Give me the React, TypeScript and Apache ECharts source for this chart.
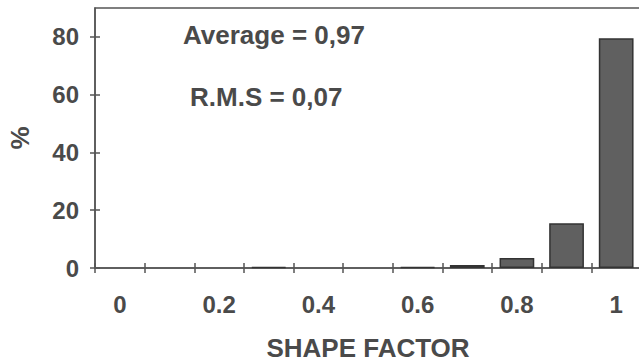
import React, { useEffect, useRef } from "react";
import * as echarts from "echarts";

const categories = ["0", "0.1", "0.2", "0.3", "0.4", "0.5", "0.6", "0.7", "0.8", "0.9", "1"];
const percentValues = [0, 0, 0, 0.3, 0, 0, 0.3, 1, 3.5, 15.5, 79.5];
const yTickValues = [0, 20, 40, 60, 80];
const annotations = ["Average = 0,97", "R.M.S = 0,07"];

const TEXT = "#4a4a4a";
const AXIS = "#555555";
const FONT = "'Liberation Sans', Arial, sans-serif";

export default function App() {
  const ref = useRef<HTMLDivElement>(null);
  useEffect(() => {
    document.body.style.margin = "0";
    const chart = echarts.init(ref.current!, null, { renderer: "svg" });
    chart.setOption({
      animation: false,
      backgroundColor: "#ffffff",
      grid: {
        left: 95,
        right: -2,
        top: 8,
        bottom: 96,
        containLabel: false,
        outerBoundsMode: "none",
        show: true,
        borderColor: AXIS,
        borderWidth: 1.5,
        backgroundColor: "transparent",
      },
      xAxis: [
        {
          type: "category",
          data: categories,
          position: "bottom",
          axisLine: { lineStyle: { color: AXIS, width: 1.5 } },
          axisTick: { show: true, interval: 0, length: 5, lineStyle: { color: AXIS, width: 1.5 } },
          axisLabel: {
            interval: 1,
            margin: 24,
            color: TEXT,
            fontSize: 24,
            fontWeight: "bold",
            fontFamily: FONT,
          },
          name: "SHAPE FACTOR",
          nameLocation: "middle",
          nameGap: 67,
          nameTextStyle: { color: TEXT, fontSize: 26, fontWeight: "bold", fontFamily: FONT },
        },
        {
          type: "category",
          data: categories,
          position: "bottom",
          axisLine: { show: false },
          axisTick: { show: true, inside: true, interval: 0, length: 5, lineStyle: { color: AXIS, width: 1.5 } },
          axisLabel: { show: false },
        },
      ],
      yAxis: [
        {
          type: "value",
          min: 0,
          max: 90,
          position: "left",
          splitLine: { show: false },
          axisLine: { show: true, lineStyle: { color: AXIS, width: 1.5 } },
          axisTick: { show: true, length: 5, customValues: yTickValues, lineStyle: { color: AXIS, width: 1.5 } },
          axisLabel: {
            customValues: yTickValues,
            margin: 16,
            color: TEXT,
            fontSize: 24,
            fontWeight: "bold",
            fontFamily: FONT,
          },
          name: "%",
          nameLocation: "middle",
          nameGap: 62,
          nameRotate: 90,
          nameTextStyle: { color: TEXT, fontSize: 26, fontWeight: "bold", fontFamily: FONT },
        },
        {
          type: "value",
          min: 0,
          max: 90,
          position: "left",
          splitLine: { show: false },
          axisLine: { show: false },
          axisTick: { show: true, inside: true, length: 5, customValues: yTickValues, lineStyle: { color: AXIS, width: 1.5 } },
          axisLabel: { show: false },
        },
      ],
      graphic: [
        {
          type: "text",
          x: 183,
          y: 35,
          style: {
            text: annotations[0],
            fill: TEXT,
            font: `bold 26px ${FONT}`,
            textVerticalAlign: "middle",
          },
        },
        {
          type: "text",
          x: 190,
          y: 97,
          style: {
            text: annotations[1],
            fill: TEXT,
            font: `bold 26px ${FONT}`,
            textVerticalAlign: "middle",
          },
        },
      ],
      series: [
        {
          type: "bar",
          xAxisIndex: 0,
          yAxisIndex: 0,
          data: percentValues.map((v) => (v === 0 ? "-" : v)),
          barCategoryGap: "30%",
          itemStyle: { color: "#606060", borderColor: "#333333", borderWidth: 1.5 },
        },
      ],
    });
    return () => chart.dispose();
  }, []);
  return <div ref={ref} style={{ width: 639, height: 364 }} />;
}
